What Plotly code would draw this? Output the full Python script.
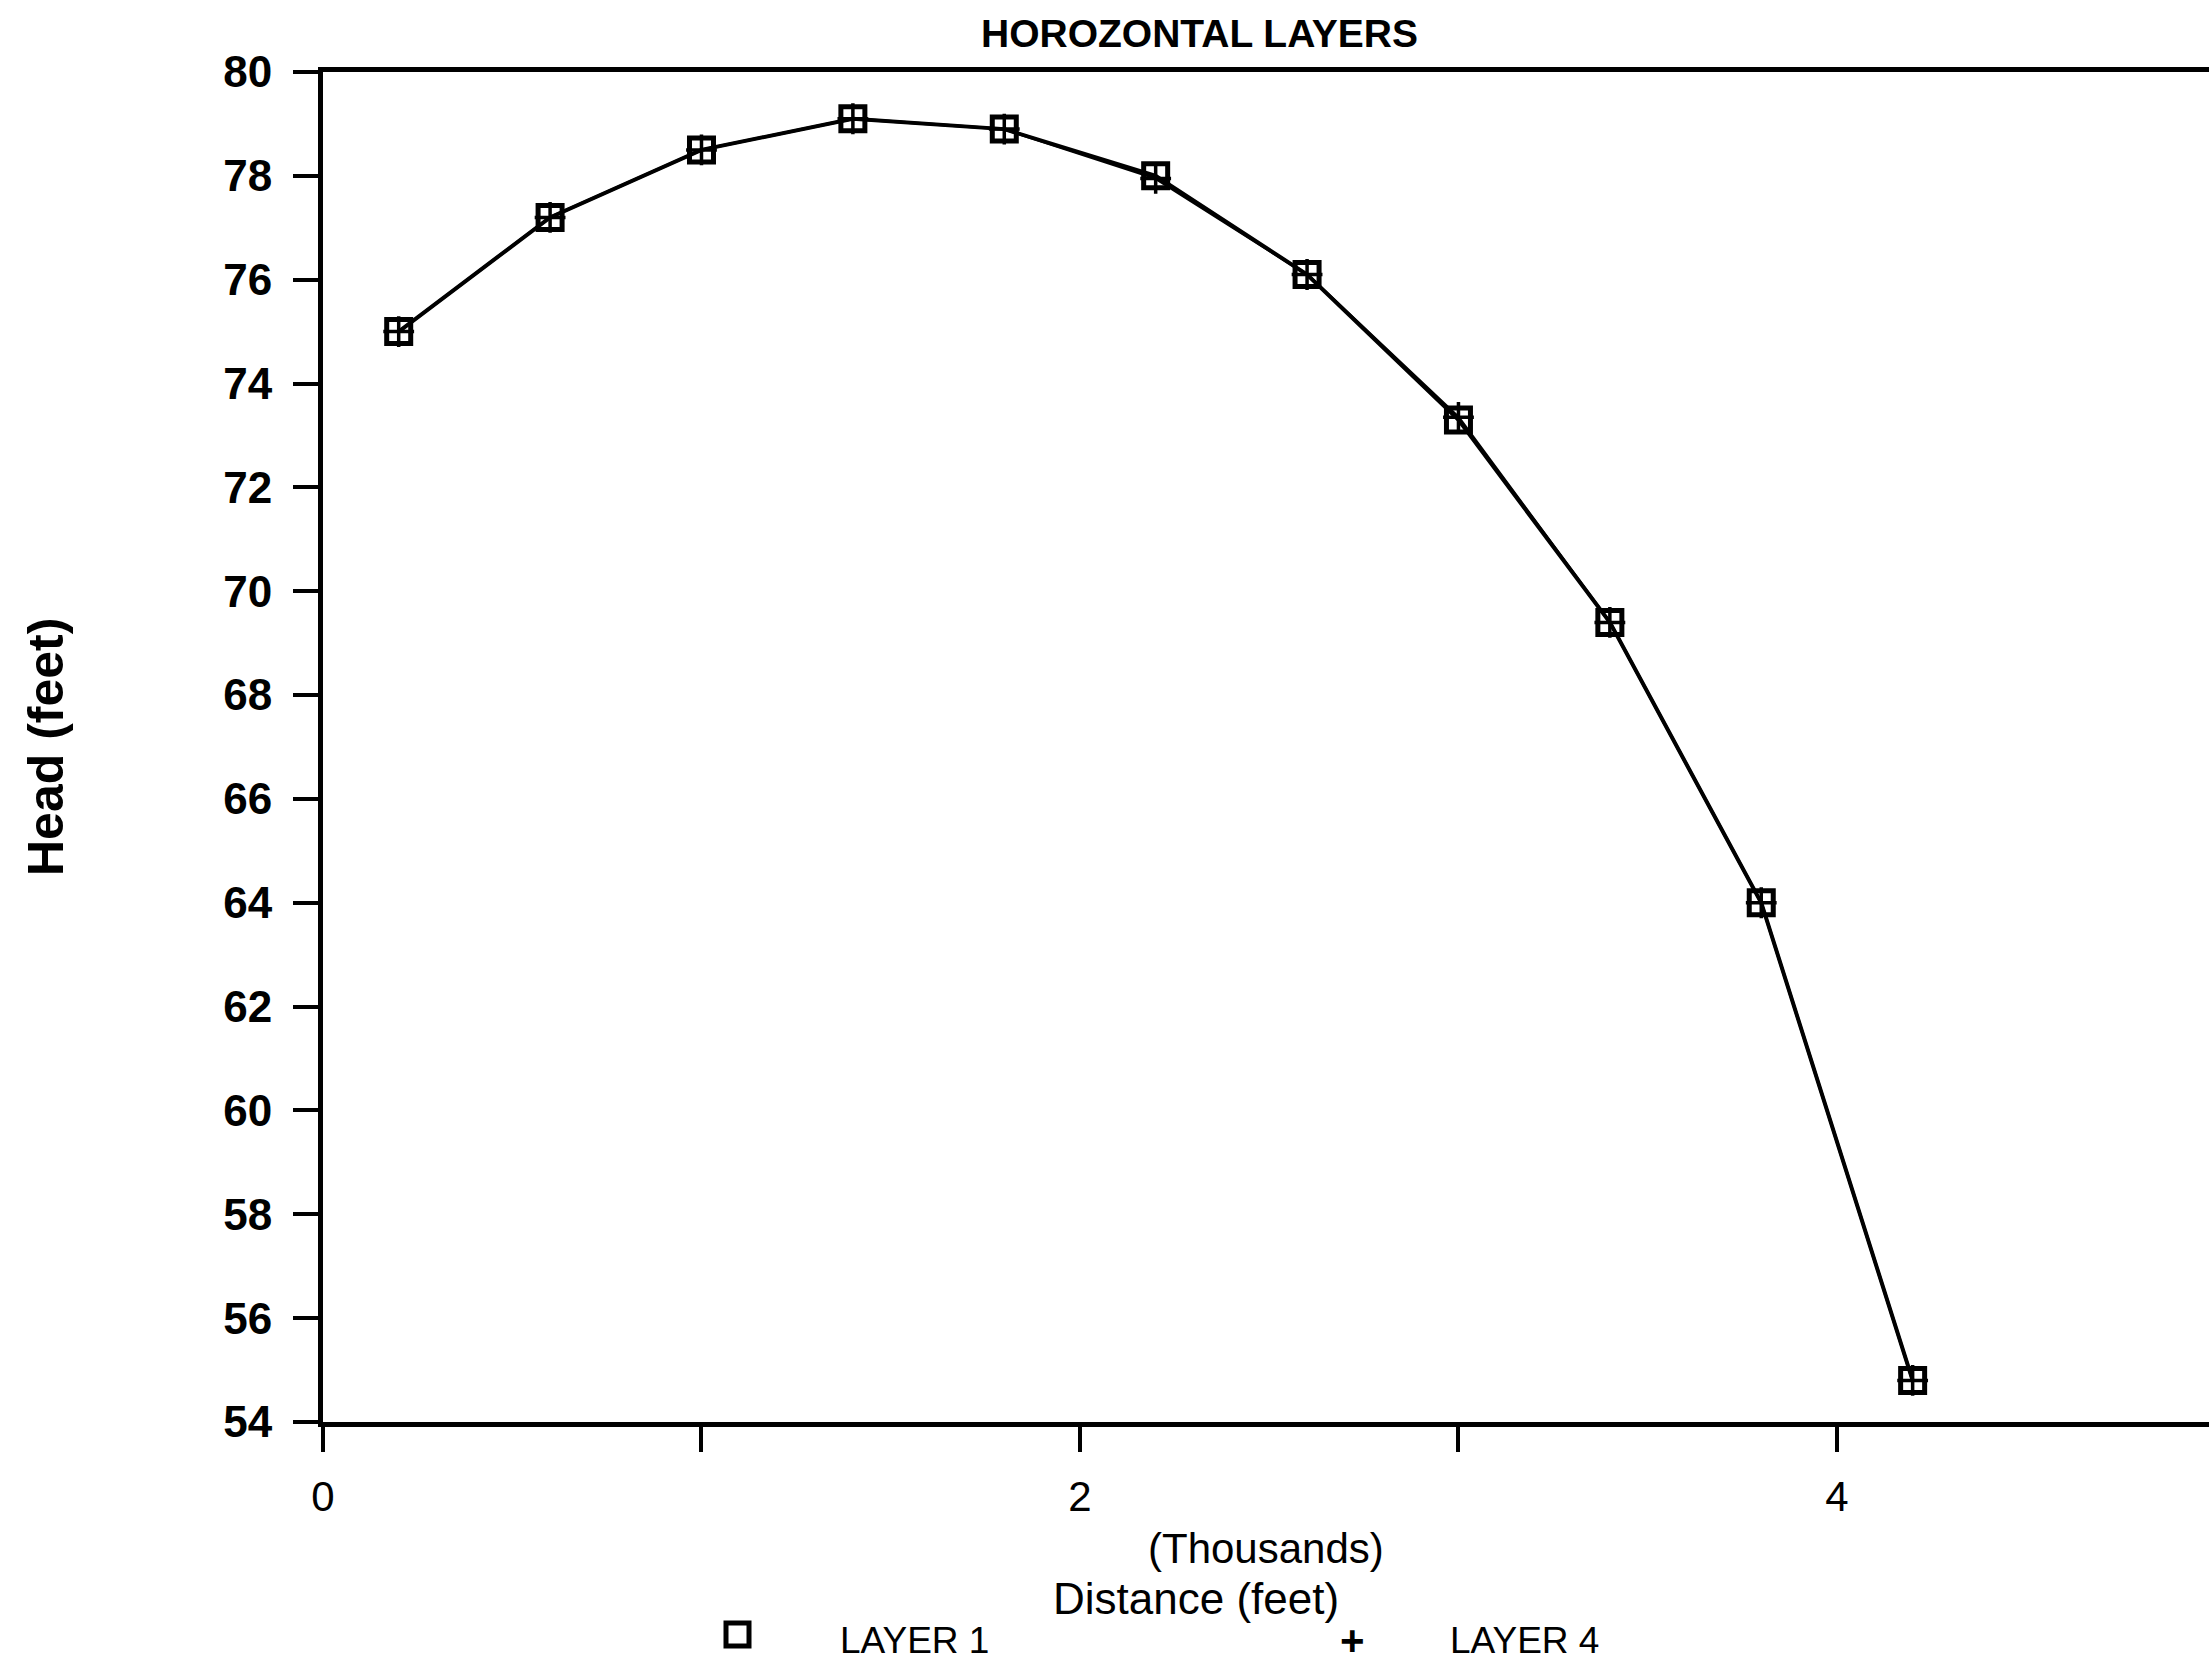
import plotly.graph_objects as go

# Head profile along the section, horizontal layers model
distance_thousands = [0.2, 0.6, 1.0, 1.4, 1.8, 2.2, 2.6, 3.0, 3.4, 3.8, 4.2]
head_layer1 = [75.0, 77.2, 78.5, 79.1, 78.9, 78.0, 76.1, 73.3, 69.4, 64.0, 54.8]
head_layer4 = [75.0, 77.2, 78.5, 79.1, 78.9, 77.95, 76.1, 73.35, 69.4, 64.0, 54.8]

x_tick_vals = [0, 1, 2, 3, 4]
x_tick_text = ["0", "", "2", "", "4"]
y_tick_vals = list(range(54, 81, 2))

FONT = "Liberation Sans"
W, H = 2209, 1677
L, R, T, B = 323, 0, 72, 255
plot_w = W - L - R
plot_h = H - T - B


def px(xp):
    return (xp - L) / plot_w


def py(yp):
    return (H - B - yp) / plot_h


fig = go.Figure()

fig.add_trace(go.Scatter(
    x=distance_thousands, y=head_layer1, mode="lines+markers", name="LAYER 1",
    line=dict(color="black", width=4),
    marker=dict(symbol="square-open", size=24, color="black",
                line=dict(width=5, color="black")),
))
fig.add_trace(go.Scatter(
    x=distance_thousands, y=head_layer4, mode="lines+markers", name="LAYER 4",
    line=dict(color="black", width=3),
    marker=dict(symbol="cross-thin-open", size=22, color="black",
                line=dict(width=3.5, color="black")),
))

axis_common = dict(
    showline=True, linecolor="black", linewidth=5,
    ticks="outside", ticklen=25, tickwidth=4, tickcolor="black",
    showgrid=False, zeroline=False,
)

fig.update_xaxes(
    range=[0, 4.983], tickvals=x_tick_vals, ticktext=x_tick_text,
    mirror=True, ticklabelstandoff=9,
    tickfont=dict(family=FONT, size=42, color="black"),
    **axis_common,
)
fig.update_yaxes(
    range=[54, 80], tickvals=y_tick_vals, ticklabelstandoff=12,
    tickfont=dict(family=FONT, size=44, color="black", weight="bold"),
    **axis_common,
)

annotations = [
    dict(text="HOROZONTAL LAYERS", x=px(1199), y=py(34),
         font=dict(family=FONT, size=39, color="black", weight="bold")),
    dict(text="Head (feet)", x=px(46), y=0.5, textangle=-90,
         font=dict(family=FONT, size=50, color="black", weight="bold")),
    dict(text="(Thousands)", x=px(1266), y=py(1548),
         font=dict(family=FONT, size=42, color="black")),
    dict(text="Distance (feet)", x=px(1196), y=py(1598),
         font=dict(family=FONT, size=44, color="black")),
    dict(text="LAYER 1", x=px(838), y=py(1640), xanchor="left",
         font=dict(family=FONT, size=37, color="black")),
    dict(text="+", x=px(1352), y=py(1640),
         font=dict(family=FONT, size=42, color="black", weight="bold")),
    dict(text="LAYER 4", x=px(1448), y=py(1640), xanchor="left",
         font=dict(family=FONT, size=37, color="black")),
]
for a in annotations:
    a.setdefault("xanchor", "center")
    a.update(xref="paper", yref="paper", yanchor="middle", showarrow=False)

fig.update_layout(
    width=W, height=H,
    margin=dict(l=L, r=R, t=T, b=B, pad=0),
    paper_bgcolor="white", plot_bgcolor="white",
    showlegend=False,
    annotations=annotations,
    shapes=[dict(type="rect", xref="paper", yref="paper",
                 x0=px(726), x1=px(749), y0=py(1646), y1=py(1623),
                 line=dict(color="black", width=5))],
)

fig.write_html("out.html")
